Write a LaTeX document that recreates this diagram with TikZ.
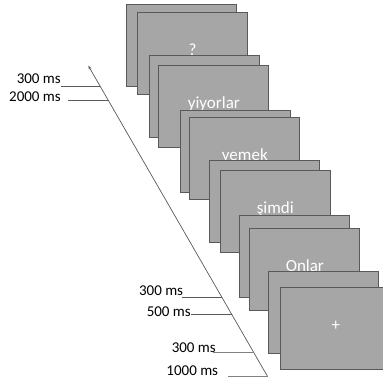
\documentclass[tikz,border=0pt]{standalone}
\usepackage{fontspec}
\setmainfont{Carlito}
\usetikzlibrary{arrows.meta,positioning}

\definecolor{screengray}{HTML}{A6A6A6}
\definecolor{edgegray}{HTML}{595959}

\begin{document}
\begin{tikzpicture}[x=1pt, y=-1pt,
  screen/.style={draw=edgegray, line width=1.1pt, fill=screengray, anchor=north west,
    minimum width=110pt, minimum height=82pt, inner sep=0pt,
    text=white, font=\fontsize{17}{20}\selectfont, text height=12pt, text depth=8.5pt},
  timelabel/.style={anchor=base east, inner sep=0pt, font=\fontsize{15}{18}\selectfont},
  tick/.style={draw=edgegray, line width=0.7pt}]
\clip (0,0) rectangle (383,382);

% Screens, back to front
\node[screen] (blank1) at (126,4.3) {};
\node[screen] (question) at (137,12.3) {?};
\node[screen] (blank2) at (149.3,55.3) {};
\node[screen] (yiyorlar) at (158.3,65.3) {yiyorlar};
\node[screen] (blank3) at (180.3,110) {};
\node[screen] (yemek) at (189.3,117.3) {yemek};
\node[screen] (blank4) at (209.3,160) {};
\node[screen] (simdi) at (219.7,170.3) {şimdi};
\node[screen] (blank5) at (239,215.3) {};
\node[screen] (onlar) at (249.3,228.3) {Onlar};
\node[screen] (blank6) at (267.7,270.7) {};
\node[screen] (fixation) at (280.3,287.3) {+};

% Time axis
\coordinate (tstart) at (267.7,376.7);
\coordinate (tend) at (88.3,65.7);
\draw[edgegray, line width=0.7pt, -{Stealth[length=4pt,width=3pt]}] (tstart) -- (tend);

% Durations, top to bottom
\coordinate (s1) at (61,86.7);     \coordinate (a1) at (100.4,86.7);
\coordinate (s2) at (68.3,100.7);  \coordinate (a2) at (108.5,100.7);
\coordinate (s3) at (181.7,297.3); \coordinate (a3) at (221.9,297.3);
\coordinate (s4) at (191,314);     \coordinate (a4) at (231.5,314);
\coordinate (s5) at (213.3,352.7); \coordinate (a5) at (253.8,352.7);
\coordinate (s6) at (227.7,376.7);

\node[timelabel] (d1) at (61,84) {300 ms};
\node[timelabel] (d2) at (61,102) {2000 ms};
\node[timelabel] (d3) at (183.3,295) {300 ms};
\node[timelabel] (d4) at (191,316.7) {500 ms};
\node[timelabel] (d5) at (216,352.3) {300 ms};
\node[timelabel] (d6) at (218.3,375.7) {1000 ms};

\draw[tick] (s1) -- (a1);
\draw[tick] (s2) -- (a2);
\draw[tick] (s3) -- (a3);
\draw[tick] (s4) -- (a4);
\draw[tick, draw=gray] (s5) -- (a5);
\draw[tick, draw=gray] (s6) -- (tstart);
\end{tikzpicture}
\end{document}
